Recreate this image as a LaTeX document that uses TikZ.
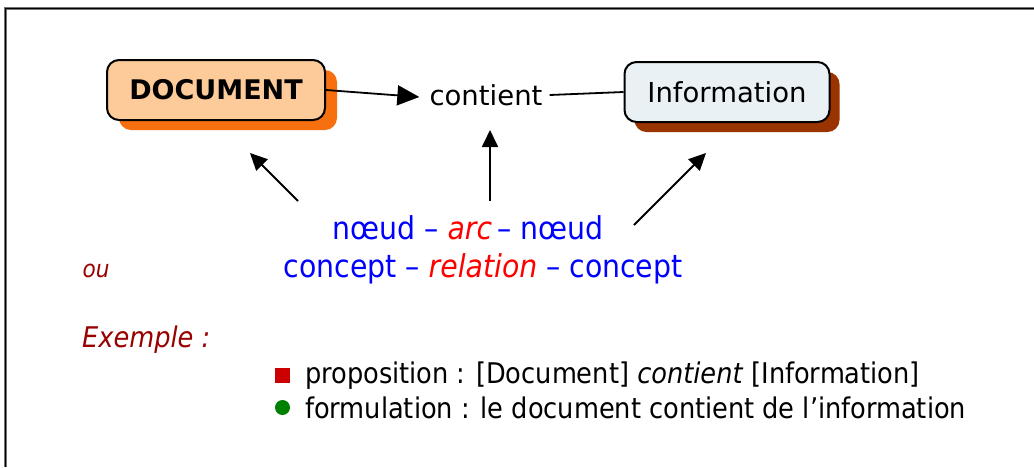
\documentclass[tikz,border=0pt]{standalone}
\usepackage{fontspec}
\setmainfont{DejaVu Sans}
\newfontfamily\condfont{DejaVu Sans Condensed}
\usetikzlibrary{arrows.meta}
\definecolor{docfill}{HTML}{FCCB99}
\definecolor{docshadow}{HTML}{F7700F}
\definecolor{infofill}{HTML}{E9F1F5}
\definecolor{infoshadow}{HTML}{993300}
\definecolor{darkred}{HTML}{990000}
\definecolor{myblue}{HTML}{0000FF}
\definecolor{myred}{HTML}{FF0000}
\definecolor{sqred}{HTML}{CC0000}
\definecolor{dotgreen}{HTML}{008000}
\tikzset{
  conceptbox/.style={draw=black, line width=2pt, rounded corners=12pt, minimum height=60pt, inner sep=0pt},
  shadowbox/.style={rounded corners=12pt, minimum height=60pt, inner sep=0pt},
  bigarrow/.style={line width=1.8pt, -{Triangle[length=22pt,width=20pt]}},
  midarrow/.style={line width=1.8pt, -{Triangle[length=17pt,width=16pt]}},
  plainline/.style={line width=1.8pt},
  bluetext/.style={text=myblue, font=\condfont\fontsize{31.5}{34}\selectfont, inner sep=0pt, anchor=base},
  bottomtext/.style={text=black, font=\condfont\fontsize{28.5}{31}\selectfont, inner sep=0pt, anchor=west},
}
\begin{document}
\begin{tikzpicture}[x=1pt,y=-1pt]
\useasboundingbox (0,0) rectangle (1034,467);
\fill[white] (0,0) rectangle (1034,467);
% frame
\draw[line width=3pt, black!55] (5,467) -- (5,8) -- (1034,8);
\draw[line width=1pt, black] (5.5,467) -- (5.5,8.5) -- (1034,8.5);
% shadows
\node[shadowbox, fill=docshadow, minimum width=218pt] (docsh) at (228,100) {};
\node[shadowbox, fill=infoshadow, minimum width=205pt] (infosh) at (737,102) {};
% boxes
\node[conceptbox, fill=docfill, minimum width=218pt, font=\bfseries\fontsize{27}{30}\selectfont] (doc) at (216,90) {DOCUMENT};
\node[conceptbox, fill=infofill, minimum width=205pt, font=\fontsize{27.5}{30}\selectfont] (info) at (727,92) {Information};
\node[font=\fontsize{27.5}{30}\selectfont, inner sep=0pt] (cont) at (486,95) {contient};
\draw[bigarrow] (doc.east) -- ([xshift=-10pt,yshift=-2pt]cont.west);
\draw[plainline] ([xshift=7pt]cont.east) -- (info.west);
% text lines
\node[bluetext] (l1) at (468,239) {nœud – \textcolor{myred}{\itshape arc}\,– nœud};
\node[bluetext] (l2) at (483,277) {concept – \textcolor{myred}{\itshape relation} – concept};
\node[text=darkred, font=\condfont\itshape\fontsize{24}{27}\selectfont, inner sep=0pt, anchor=base] (ou) at (96,277) {ou};
% arrows from text
\coordinate (a1s) at (298,201);
\coordinate (a1e) at (250,153);
\coordinate (a2s) at (490,201);
\coordinate (a2e) at (490,130);
\coordinate (a3s) at (634,225);
\coordinate (a3e) at (706,153);
\draw[midarrow] (a1s) -- (a1e);
\draw[midarrow] (a2s) -- (a2e);
\draw[midarrow] (a3s) -- (a3e);
% example
\node[text=darkred, font=\condfont\itshape\fontsize{28.5}{31}\selectfont, inner sep=0pt, anchor=west] (ex) at (82,340) {Exemple :};
\node[fill=sqred, minimum size=15pt, inner sep=0pt] (sq) at (282.5,375.5) {};
\node[fill=dotgreen, circle, minimum size=15pt, inner sep=0pt] (dot) at (282.5,407.5) {};
\node[bottomtext] (p1) at (305,376) {proposition : [Document] \textit{contient} [Information]};
\node[bottomtext] (p2) at (305,408) {formulation : le document contient de l’information};
\end{tikzpicture}
\end{document}
